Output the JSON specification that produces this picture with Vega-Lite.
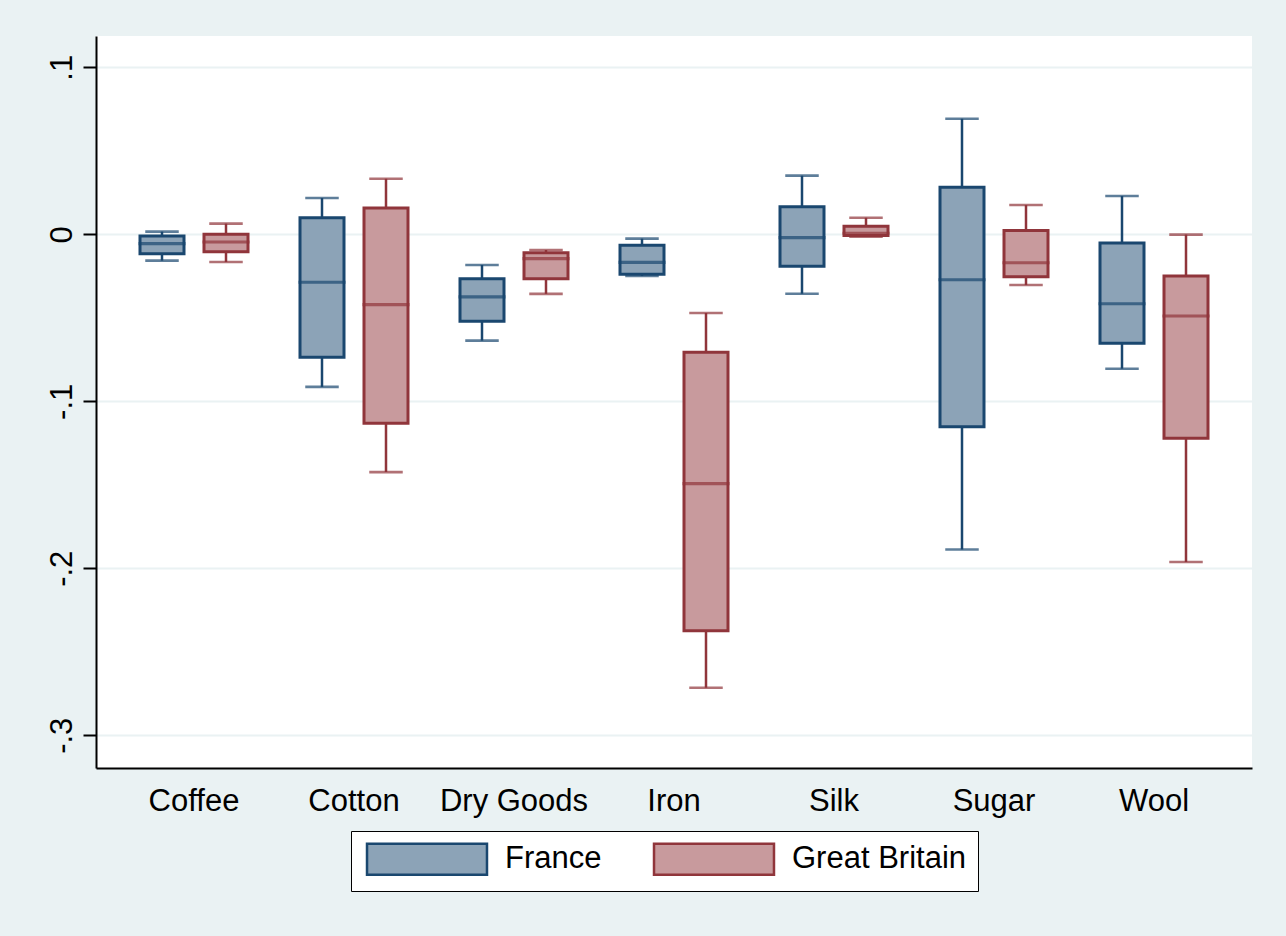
{
  "$schema": "https://vega.github.io/schema/vega-lite/v6.json",
  "width": 1156,
  "height": 732,
  "autosize": {"type": "none"},
  "padding": {"left": 96, "top": 36, "right": 34, "bottom": 168},
  "background": "#EAF2F3",
  "config": {
    "view": {"fill": "white", "stroke": null},
    "font": "Liberation Sans",
    "legend": {
      "title": null,
      "orient": "none",
      "legendX": 255,
      "legendY": 795,
      "direction": "horizontal",
      "symbolType": "M-3.87,-1H3.87V1H-3.87Z",
      "symbolSize": 961,
      "symbolOffset": 48,
      "symbolStrokeWidth": 2.5,
      "symbolOpacity": 1,
      "labelFontSize": 31,
      "labelColor": "black",
      "labelLimit": 0,
      "labelOffset": 61,
      "columnPadding": 47,
      "padding": 11,
      "strokeColor": "black",
      "fillColor": "white",
      "cornerRadius": 0
    }
  },
  "data": {
    "values": [
      {"product": "Coffee", "country": "France", "lo": -0.0158, "q1": -0.0116, "med": -0.0056, "q3": -0.0010, "hi": 0.0016},
      {"product": "Coffee", "country": "Great Britain", "lo": -0.0166, "q1": -0.0104, "med": -0.0046, "q3": 0.0000, "hi": 0.0064},
      {"product": "Cotton", "country": "France", "lo": -0.0914, "q1": -0.0737, "med": -0.0287, "q3": 0.0099, "hi": 0.0217},
      {"product": "Cotton", "country": "Great Britain", "lo": -0.1424, "q1": -0.1131, "med": -0.0421, "q3": 0.0157, "hi": 0.0333},
      {"product": "Dry Goods", "country": "France", "lo": -0.0637, "q1": -0.0521, "med": -0.0375, "q3": -0.0266, "hi": -0.0184},
      {"product": "Dry Goods", "country": "Great Britain", "lo": -0.0357, "q1": -0.0266, "med": -0.0146, "q3": -0.0110, "hi": -0.0094},
      {"product": "Iron", "country": "France", "lo": -0.0250, "q1": -0.0240, "med": -0.0168, "q3": -0.0066, "hi": -0.0026},
      {"product": "Iron", "country": "Great Britain", "lo": -0.2715, "q1": -0.2374, "med": -0.1493, "q3": -0.0707, "hi": -0.0471},
      {"product": "Silk", "country": "France", "lo": -0.0356, "q1": -0.0192, "med": -0.0020, "q3": 0.0165, "hi": 0.0351},
      {"product": "Silk", "country": "Great Britain", "lo": -0.0014, "q1": -0.0008, "med": 0.0006, "q3": 0.0048, "hi": 0.0099},
      {"product": "Sugar", "country": "France", "lo": -0.1888, "q1": -0.1152, "med": -0.0272, "q3": 0.0281, "hi": 0.0692},
      {"product": "Sugar", "country": "Great Britain", "lo": -0.0304, "q1": -0.0254, "med": -0.0170, "q3": 0.0022, "hi": 0.0175},
      {"product": "Wool", "country": "France", "lo": -0.0805, "q1": -0.0653, "med": -0.0416, "q3": -0.0052, "hi": 0.0229},
      {"product": "Wool", "country": "Great Britain", "lo": -0.1962, "q1": -0.1222, "med": -0.0489, "q3": -0.0250, "hi": -0.0002}
    ]
  },
  "encoding": {
    "x": {
      "field": "product",
      "type": "nominal",
      "scale": {"paddingInner": 0.1, "paddingOuter": 0.1625},
      "axis": {
        "title": null,
        "labelAngle": 0,
        "labelFontSize": 31,
        "labelColor": "black",
        "labelPadding": 18,
        "ticks": false,
        "tickSize": 0,
        "domainColor": "black",
        "domainWidth": 2,
        "grid": false
      }
    },
    "xOffset": {
      "field": "country",
      "type": "nominal",
      "scale": {"paddingInner": 0.3125, "paddingOuter": 0.28125}
    }
  },
  "layer": [
    {
      "mark": {"type": "rule", "strokeWidth": 2.5},
      "encoding": {
        "y": {
          "field": "lo",
          "type": "quantitative",
          "scale": {"domain": [-0.3196, 0.11874], "nice": false, "zero": false},
          "axis": {
            "title": null,
            "values": [-0.3, -0.2, -0.1, 0, 0.1],
            "labelExpr": "datum.value == 0 ? '0' : (datum.value < 0 ? '-' : '') + '.' + format(abs(datum.value) * 10, '.0f')",
            "labelAngle": 270,
            "labelAlign": "center",
            "labelBaseline": "alphabetic",
            "labelFontSize": 31,
            "labelColor": "black",
            "labelPadding": 12,
            "tickSize": 13,
            "tickWidth": 2,
            "tickColor": "black",
            "domainColor": "black",
            "domainWidth": 2,
            "grid": true,
            "gridColor": "#EAF2F3",
            "gridWidth": 2
          }
        },
        "y2": {"field": "hi"},
        "stroke": {
          "field": "country",
          "type": "nominal",
          "scale": {"domain": ["France", "Great Britain"], "range": ["#1A476F", "#90353B"]}
        }
      }
    },
    {
      "mark": {"type": "tick", "thickness": 0.1, "strokeWidth": 2.5, "filled": false, "size": 31},
      "encoding": {
        "y": {"field": "lo", "type": "quantitative"},
        "stroke": {"field": "country", "type": "nominal"}
      }
    },
    {
      "mark": {"type": "tick", "thickness": 0.1, "strokeWidth": 2.5, "filled": false, "size": 31},
      "encoding": {
        "y": {"field": "hi", "type": "quantitative"},
        "stroke": {"field": "country", "type": "nominal"}
      }
    },
    {
      "mark": {"type": "bar", "strokeWidth": 3},
      "encoding": {
        "y": {"field": "q1", "type": "quantitative"},
        "y2": {"field": "q3"},
        "fill": {
          "field": "country",
          "type": "nominal",
          "scale": {"domain": ["France", "Great Britain"], "range": ["#8CA3B7", "#C89A9D"]}
        },
        "stroke": {"field": "country", "type": "nominal"}
      }
    },
    {
      "mark": {"type": "tick", "thickness": 0.1, "strokeWidth": 3, "filled": false, "size": 44},
      "encoding": {
        "y": {"field": "med", "type": "quantitative"},
        "stroke": {"field": "country", "type": "nominal"}
      }
    }
  ]
}
